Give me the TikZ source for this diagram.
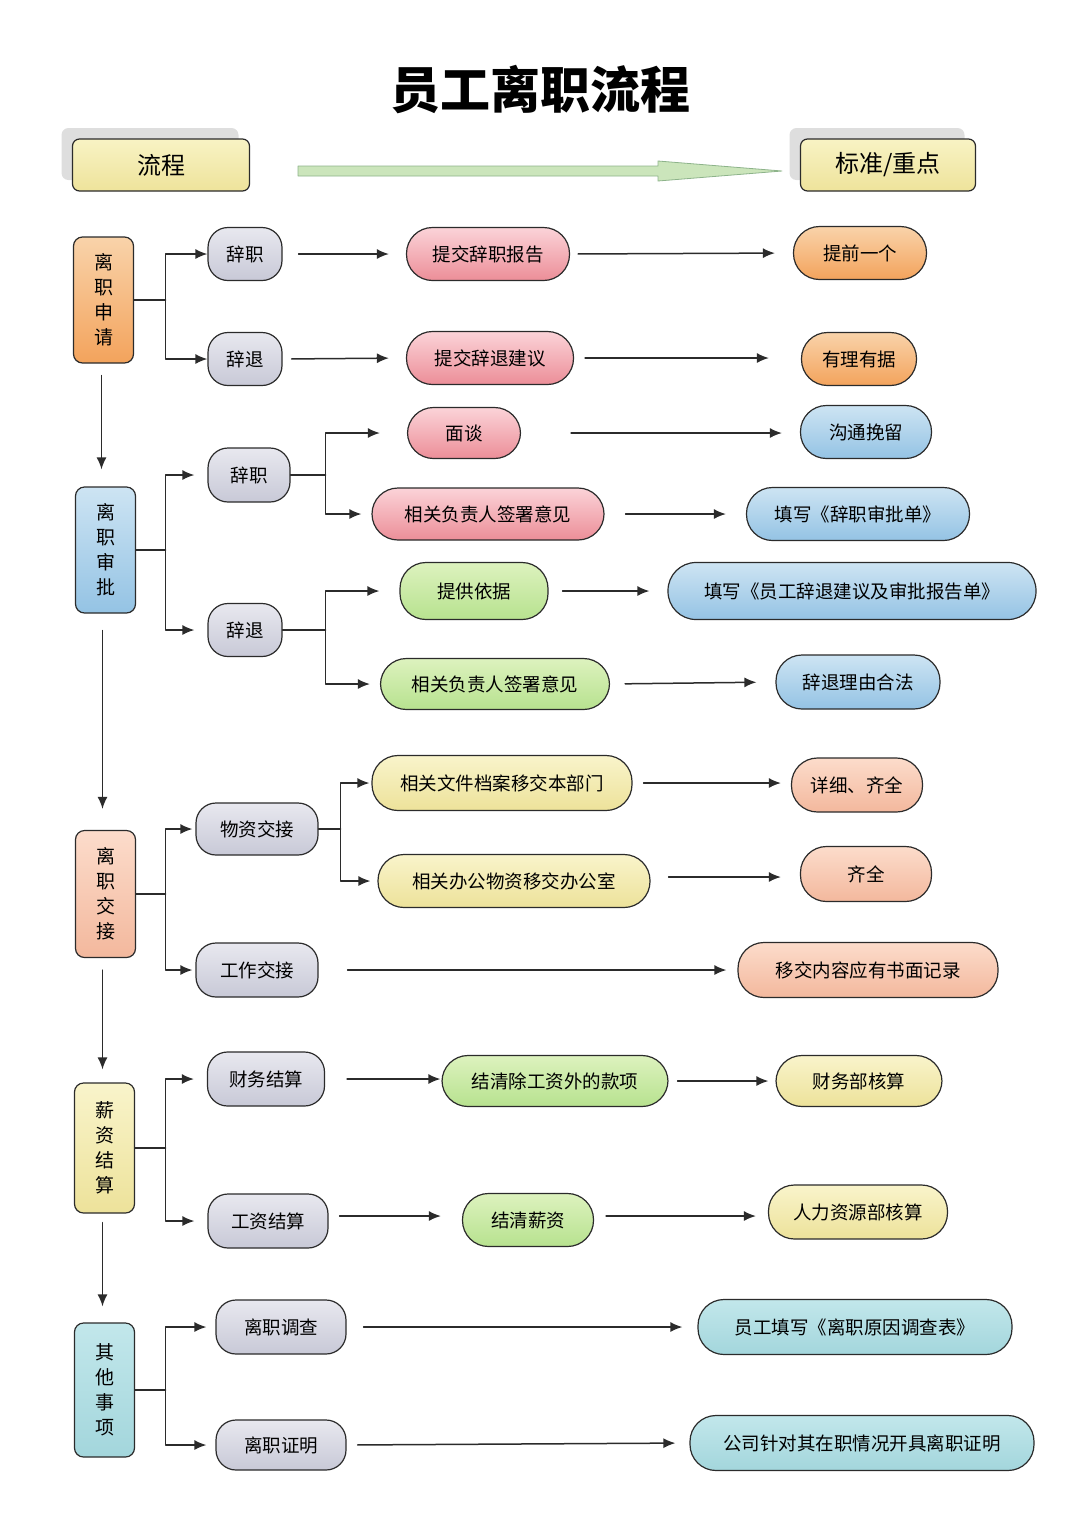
\documentclass[tikz,border=0pt]{standalone}
\usepackage{fontspec}
\setmainfont{Noto Sans CJK SC}
\usetikzlibrary{arrows.meta,shadows}

\definecolor{lineC}{HTML}{2B2B2B}
\definecolor{shadowC}{HTML}{DEDEDE}
\definecolor{headT}{HTML}{F8F3C4}
\definecolor{headB}{HTML}{EEE39B}
\definecolor{grayT}{HTML}{E8E8EF}
\definecolor{grayB}{HTML}{C8C9D7}
\definecolor{orangeT}{HTML}{F9D3AA}
\definecolor{orangeB}{HTML}{F3A35C}
\definecolor{blueT}{HTML}{CDE4F3}
\definecolor{blueB}{HTML}{94C3E4}
\definecolor{salmonT}{HTML}{FCDCCB}
\definecolor{salmonB}{HTML}{F3B89D}
\definecolor{yellowT}{HTML}{F9F4CB}
\definecolor{yellowB}{HTML}{EDE29A}
\definecolor{tealT}{HTML}{C2E7EB}
\definecolor{tealB}{HTML}{A3D6DC}
\definecolor{redT}{HTML}{FBD3D8}
\definecolor{redB}{HTML}{EC8E98}
\definecolor{greenT}{HTML}{DDF2BE}
\definecolor{greenB}{HTML}{B7E28F}
\definecolor{bigArrow}{HTML}{CBE5BB}
\definecolor{bigArrowL}{HTML}{8DB38A}

\begin{document}
\begin{tikzpicture}[x=1pt,y=-1pt,line cap=round,line join=round,
  box/.style={draw=lineC,line width=1.2pt,inner sep=0pt,align=center,
    font=\fontsize{18.5}{20}\selectfont},
  head/.style={box,rounded corners=7pt,minimum height=52pt,
    top color=headT,bottom color=headB,font=\fontsize{24}{26}\selectfont,
    general shadow={fill=shadowC,shadow xshift=-11pt,shadow yshift=11pt}},
  stage/.style={box,rounded corners=9pt,minimum width=60pt,
    font=\fontsize{19}{25}\selectfont},
  sub/.style={box,rounded corners=20pt,minimum height=53pt,
    top color=grayT,bottom color=grayB},
  pill/.style={box,rounded corners=26pt,minimum height=53pt},
  red/.style={pill,top color=redT,bottom color=redB},
  green/.style={pill,top color=greenT,bottom color=greenB},
  yel/.style={pill,top color=yellowT,bottom color=yellowB},
  orng/.style={pill,top color=orangeT,bottom color=orangeB},
  blu/.style={pill,top color=blueT,bottom color=blueB},
  salm/.style={pill,top color=salmonT,bottom color=salmonB},
  teal/.style={pill,top color=tealT,bottom color=tealB},
  link/.style={draw=lineC,line width=1.5pt},
  arr/.style={link,-{Latex[length=12pt,width=10pt]}}]

  \useasboundingbox (0,0) rectangle (1080,1527);

  % title and headers
  \node (title) at (540,90) {\fontsize{50}{50}\selectfont\bfseries 员工离职流程};
  \node[head,minimum width=177pt] (hdA) at (161,165) {流程};
  \node[head,minimum width=175pt] (hdB) at (888,165) {标准/重点};
  \draw[fill=bigArrow,draw=bigArrowL,line width=0.8pt]
    (298,166) -- (658,166) -- (658,161) -- (782,171) -- (658,181)
    -- (658,176) -- (298,176) -- cycle;

  % stages
  \node[stage,minimum height=126pt,top color=orangeT,bottom color=orangeB] (sq) at (103.5,300) {离\\职\\申\\请};
  \node[stage,minimum height=126pt,top color=blueT,bottom color=blueB] (sp) at (105.5,550) {离\\职\\审\\批};
  \node[stage,minimum height=127pt,top color=salmonT,bottom color=salmonB] (jj) at (105.5,894) {离\\职\\交\\接};
  \node[stage,minimum height=130pt,top color=yellowT,bottom color=yellowB] (xz) at (104.5,1148) {薪\\资\\结\\算};
  \node[stage,minimum height=134pt,top color=tealT,bottom color=tealB] (qt) at (104.5,1390) {其\\他\\事\\项};

  \draw[arr,shorten <=12pt,shorten >=17pt] ([xshift=-2pt]sq.south) -- ([xshift=-2pt]sq.south |- sp.north);
  \draw[arr,shorten <=17pt,shorten >=21pt] ([xshift=-3pt]sp.south) -- ([xshift=-3pt]sp.south |- jj.north);
  \draw[arr,shorten <=12pt,shorten >=13pt] ([xshift=-3pt]jj.south) -- ([xshift=-3pt]jj.south |- xz.north);
  \draw[arr,shorten <=9pt,shorten >=16pt] ([xshift=-2pt]xz.south) -- ([xshift=-2pt]xz.south |- qt.north);

  % 离职申请
  \node[sub,minimum width=74pt] (sqA) at (245,254) {辞职};
  \node[sub,minimum width=74pt] (sqB) at (245,359) {辞退};
  \node[red,minimum width=163pt] (sqA1) at (488,254) {提交辞职报告};
  \node[red,minimum width=167pt] (sqB1) at (490,358) {提交辞退建议};
  \node[orng,minimum width=133pt] (sqA2) at (860,253) {提前一个};
  \node[orng,minimum width=115pt] (sqB2) at (859,359) {有理有据};

  \coordinate (sqJ) at ([xshift=31.5pt]sq.east);
  \draw[link] (sq.east) -- (sqJ);
  \draw[arr] (sqJ) |- (sqA);
  \draw[arr] (sqJ) |- (sqB);
  \draw[arr,shorten <=16pt,shorten >=17pt] (sqA.east) -- (sqA1.west);
  \draw[arr,shorten <=8pt,shorten >=18pt] (sqA1.east) -- (sqA2.west);
  \draw[arr,shorten <=9pt,shorten >=17pt] (sqB.east) -- (sqB1.west);
  \draw[arr,shorten <=11pt,shorten >=32pt] (sqB1.east) -- (sqB1.east -| sqB2.west);

  % 离职审批
  \node[sub,minimum width=82pt,minimum height=54pt] (spA) at (249,475) {辞职};
  \node[sub,minimum width=74pt] (spB) at (245,630) {辞退};
  \node[red,minimum width=113pt,minimum height=51pt] (spA1) at (464,433) {面谈};
  \node[red,minimum width=232pt,minimum height=52pt] (spA2) at (488,514) {相关负责人签署意见};
  \node[green,minimum width=148pt,minimum height=57pt] (spB1) at (474,591) {提供依据};
  \node[green,minimum width=229pt,minimum height=51pt] (spB2) at (495,684) {相关负责人签署意见};
  \node[blu,minimum width=131pt] (spA3) at (866,432) {沟通挽留};
  \node[blu,minimum width=223pt] (spA4) at (858,514) {填写《辞职审批单》};
  \node[blu,minimum width=368pt,minimum height=57pt,rounded corners=28pt] (spB3) at (852,591) {填写《员工辞退建议及审批报告单》};
  \node[blu,minimum width=164pt,minimum height=54pt] (spB4) at (858,682) {辞退理由合法};

  \coordinate (spJ) at ([xshift=29.5pt]sp.east);
  \draw[link] (sp.east) -- (spJ);
  \draw[arr,shorten >=13pt] (spJ) |- (spA);
  \draw[arr,shorten >=13pt] (spJ) |- (spB);
  \coordinate (spAJ) at ([xshift=35pt]spA.east);
  \draw[link] (spA.east) -- (spAJ);
  \draw[arr,shorten >=27pt] (spAJ) |- (spA1);
  \draw[arr,shorten >=10pt] (spAJ) |- (spA2);
  \coordinate (spBJ) at ([xshift=43pt]spB.east);
  \draw[link] (spB.east) -- (spBJ);
  \draw[arr,shorten >=20pt] (spBJ) |- (spB1);
  \draw[arr,shorten >=10pt] (spBJ) |- (spB2);
  \draw[arr,shorten <=50pt,shorten >=18pt] (spA1.east) -- (spA1.east -| spA3.west);
  \draw[arr,shorten <=21pt,shorten >=20pt] (spA2.east) -- (spA4.west);
  \draw[arr,shorten <=14pt,shorten >=18pt] (spB1.east) -- (spB3.west);
  \draw[arr,shorten <=15pt,shorten >=19pt] (spB2.east) -- (spB4.west);

  % 离职交接
  \node[sub,minimum width=122pt,minimum height=52pt] (jjA) at (257,829) {物资交接};
  \node[sub,minimum width=122pt,minimum height=54pt] (jjB) at (257,970) {工作交接};
  \node[yel,minimum width=260pt,minimum height=55pt] (jjA1) at (502,783) {相关文件档案移交本部门};
  \node[yel,minimum width=272pt] (jjA2) at (514,881) {相关办公物资移交办公室};
  \node[salm,minimum width=131pt,minimum height=54pt] (jjA3) at (857,785) {详细、齐全};
  \node[salm,minimum width=131pt,minimum height=55pt] (jjA4) at (866,874) {齐全};
  \node[salm,minimum width=260pt,minimum height=55pt] (jjB1) at (868,970) {移交内容应有书面记录};

  \coordinate (jjJ) at ([xshift=29.5pt]jj.east);
  \draw[link] (jj.east) -- (jjJ);
  \draw[arr,shorten >=3pt] (jjJ) |- (jjA);
  \draw[arr,shorten >=3pt] (jjJ) |- (jjB);
  \coordinate (jjAJ) at ([xshift=22pt]jjA.east);
  \draw[link] (jjA.east) -- (jjAJ);
  \draw[arr,shorten >=2pt] (jjAJ) |- (jjA1);
  \draw[arr,shorten >=7pt] (jjAJ) |- (jjA2);
  \draw[arr,shorten <=11pt,shorten >=10pt] (jjA1.east) -- (jjA1.east -| jjA3.west);
  \draw[arr,shorten <=18pt,shorten >=19pt] ([yshift=4pt]jjA2.east) -- ([yshift=4pt]jjA2.east -| jjA4.west);
  \draw[arr,shorten <=29pt,shorten >=11pt] (jjB.east) -- (jjB1.west);

  % 薪资结算
  \node[sub,minimum width=117pt,minimum height=54pt] (xzA) at (266,1079) {财务结算};
  \node[sub,minimum width=120pt,minimum height=54pt] (xzB) at (268,1221) {工资结算};
  \node[green,minimum width=226pt,minimum height=51pt] (xzA1) at (555,1081) {结清除工资外的款项};
  \node[green,minimum width=131pt] (xzB1) at (528,1220) {结清薪资};
  \node[yel,minimum width=166pt,minimum height=51pt] (xzA2) at (859,1081) {财务部核算};
  \node[yel,minimum width=179pt,minimum height=54pt] (xzB2) at (858,1212) {人力资源部核算};

  \coordinate (xzJ) at ([xshift=30.5pt]xz.east);
  \draw[link] (xz.east) -- (xzJ);
  \draw[arr,shorten >=13pt] (xzJ) |- (xzA);
  \draw[arr,shorten >=13pt] (xzJ) |- (xzB);
  \draw[arr,shorten <=22pt,shorten >=1pt] (xzA.east) -- (xzA.east -| xzA1.west);
  \draw[arr,shorten <=9pt,shorten >=7pt] (xzA1.east) -- (xzA2.west);
  \draw[arr,shorten <=11pt,shorten >=21pt] ([yshift=5pt]xzB.east) -- ([yshift=5pt]xzB.east -| xzB1.west);
  \draw[arr,shorten <=12pt,shorten >=12pt] ([yshift=4pt]xzB1.east) -- ([yshift=4pt]xzB1.east -| xzB2.west);

  % 其他事项
  \node[sub,minimum width=130pt,minimum height=54pt] (qtA) at (281,1327) {离职调查};
  \node[sub,minimum width=130pt,minimum height=50pt] (qtB) at (281,1445) {离职证明};
  \node[teal,minimum width=314pt,minimum height=55pt] (qtA1) at (855,1327) {员工填写《离职原因调查表》};
  \node[teal,minimum width=344pt,minimum height=55pt] (qtB1) at (862,1443) {公司针对其在职情况开具离职证明};

  \coordinate (qtJ) at ([xshift=30.5pt]qt.east);
  \draw[link] (qt.east) -- (qtJ);
  \draw[arr,shorten >=9pt] (qtJ) |- (qtA);
  \draw[arr,shorten >=9pt] (qtJ) |- (qtB);
  \draw[arr,shorten <=17pt,shorten >=15pt] (qtA.east) -- (qtA1.west);
  \draw[arr,shorten <=11pt,shorten >=14pt] (qtB.east) -- (qtB1.west);
\end{tikzpicture}
\end{document}
